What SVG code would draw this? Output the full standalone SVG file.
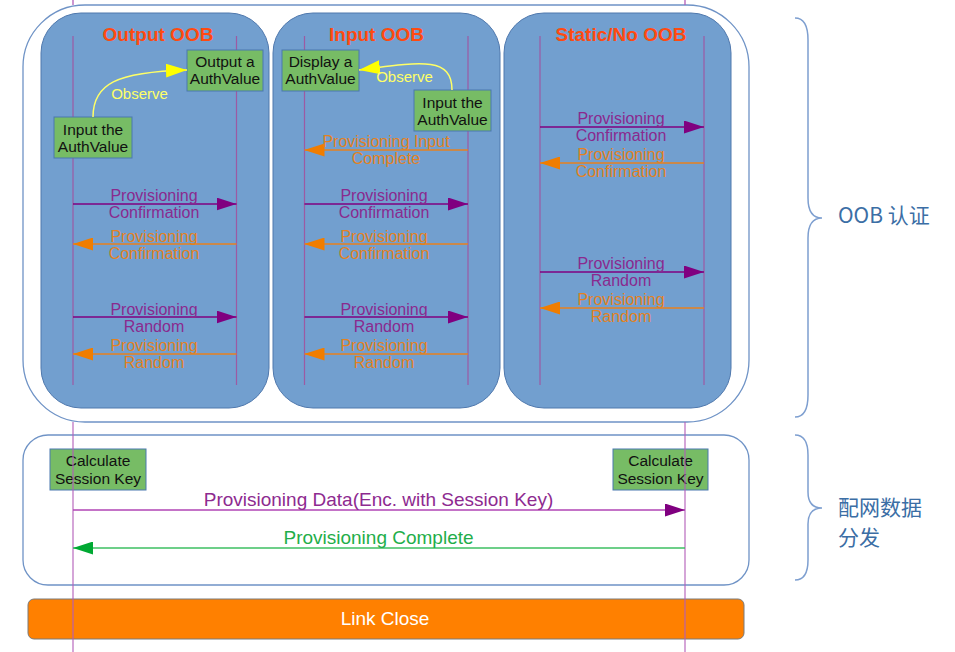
<svg xmlns="http://www.w3.org/2000/svg" width="955" height="652" viewBox="0 0 955 652">
<defs>
<style>
text{font-family:"Liberation Sans",Arial,sans-serif}
.panel{fill:#729fcf;stroke:#4f78ad;stroke-width:1}
.ll{stroke:#9d5aa3;stroke-width:1.2;fill:none}
.main{stroke:#b35db8;stroke-width:1.3;fill:none}
.title{font-size:19px;font-weight:bold;fill:#ff4a10;text-anchor:middle}
.gbox{fill:#77bc65;stroke:#4a78b0;stroke-width:1}
.gt{font-size:15.5px;fill:#111;text-anchor:middle}
.mp{stroke:#800080;stroke-width:1.5;fill:none}
.mo{stroke:#e8801e;stroke-width:1.5;fill:none}
.tp{font-size:16px;fill:#8a2a8e;text-anchor:middle}
.to{font-size:16px;fill:#e3821f;text-anchor:middle}
.yel{stroke:#ffff66;stroke-width:1.5;fill:none}
.ty{font-size:15px;fill:#ffff66;text-anchor:middle}
.grp{fill:none;stroke:#6f93c6;stroke-width:1.3}
.brace{fill:none;stroke:#7e9fd0;stroke-width:1.5}
.cjk{font-family:"Noto Sans CJK SC","Liberation Sans",sans-serif;font-size:21px;fill:#3b6ea5}
</style>
<marker id="ap" markerUnits="userSpaceOnUse" markerWidth="20" markerHeight="13" refX="20" refY="6.5" orient="auto"><path d="M0,0 L20,6.5 L0,13 z" fill="#800080"/></marker>
<marker id="ao" markerUnits="userSpaceOnUse" markerWidth="20" markerHeight="13" refX="20" refY="6.5" orient="auto"><path d="M0,0 L20,6.5 L0,13 z" fill="#f07d00"/></marker>
<marker id="ag" markerUnits="userSpaceOnUse" markerWidth="20" markerHeight="13" refX="20" refY="6.5" orient="auto"><path d="M0,0 L20,6.5 L0,13 z" fill="#00a933"/></marker>
<marker id="ay" markerUnits="userSpaceOnUse" markerWidth="21" markerHeight="14" refX="21" refY="7" orient="auto"><path d="M0,0 L21,7 L0,14 z" fill="#ffff00"/></marker>
</defs>

<g id="oob-group">
<rect class="grp" x="23" y="5" width="726" height="417" rx="62" ry="62" fill="#fff"/>
</g>

<g id="panel-output">
<rect class="panel" x="41" y="13" width="228" height="395" rx="40" ry="40"/>
<text class="title" x="158" y="41">Output OOB</text>
<line class="ll" x1="73" y1="36" x2="73" y2="385"/>
<line class="ll" x1="236.5" y1="36" x2="236.5" y2="385"/>
</g>
<g id="panel-input">
<rect class="panel" x="273" y="13" width="227" height="395" rx="40" ry="40"/>
<text class="title" x="376.5" y="41">Input OOB</text>
<line class="ll" x1="304.5" y1="36" x2="304.5" y2="385"/>
<line class="ll" x1="468" y1="36" x2="468" y2="385"/>
</g>
<g id="panel-static">
<rect class="panel" x="504" y="13" width="227" height="395" rx="40" ry="40"/>
<text class="title" x="621" y="41">Static/No OOB</text>
<line class="ll" x1="540" y1="36" x2="540" y2="385"/>
<line class="ll" x1="704" y1="36" x2="704" y2="385"/>
</g>

<g id="box-output-auth">
<rect class="gbox" x="187" y="50" width="76" height="41"/>
<text class="gt" x="225" y="66.5">Output a</text>
<text class="gt" x="225" y="84">AuthValue</text>
</g>
<g id="box-input-auth-1">
<rect class="gbox" x="54" y="117" width="78" height="41"/>
<text class="gt" x="93" y="134.5">Input the</text>
<text class="gt" x="93" y="152">AuthValue</text>
</g>
<g id="box-display-auth">
<rect class="gbox" x="282" y="50" width="77" height="41"/>
<text class="gt" x="320.5" y="66.5">Display a</text>
<text class="gt" x="320.5" y="84">AuthValue</text>
</g>
<g id="box-input-auth-2">
<rect class="gbox" x="414" y="90" width="77" height="41"/>
<text class="gt" x="452.5" y="107.5">Input the</text>
<text class="gt" x="452.5" y="125">AuthValue</text>
</g>

<g id="oob-group-2">
<rect class="grp" x="23" y="435" width="726" height="150" rx="25" ry="25" fill="none"/>
</g>
<g id="box-calc-left">
<rect class="gbox" x="50" y="449" width="96" height="41"/>
<text class="gt" x="98" y="465.5">Calculate</text>
<text class="gt" x="98" y="483.5">Session Key</text>
</g>
<g id="box-calc-right">
<rect class="gbox" x="613" y="449" width="95" height="41"/>
<text class="gt" x="660.5" y="465.5">Calculate</text>
<text class="gt" x="660.5" y="483.5">Session Key</text>
</g>

<g id="link-close">
<rect x="28" y="599" width="716" height="40" rx="6" ry="6" fill="#ff8000" stroke="#7a7a7a" stroke-width="1"/>
<text x="385" y="625" font-size="19" fill="#fff" text-anchor="middle">Link Close</text>
</g>

<g id="connectors">
<line class="main" x1="73" y1="0" x2="73" y2="5"/>
<line class="main" x1="685" y1="0" x2="685" y2="5"/>
<line class="main" x1="73" y1="422" x2="73" y2="652" stroke-opacity="0.85"/>
<line class="main" x1="685" y1="422" x2="685" y2="652" stroke-opacity="0.85"/>

<path class="yel" d="M93,117 C93,84 116,72 187,70" marker-end="url(#ay)"/>
<text class="ty" x="139.5" y="99">Observe</text>
<path class="yel" d="M452,90 C452,56 420,62 359,70" marker-end="url(#ay)"/>
<text class="ty" x="404.5" y="82">Observe</text>

<line class="mo" x1="468" y1="150" x2="304.5" y2="150" marker-end="url(#ao)"/>
<text class="to" x="386" y="146.5">Provisioning Input</text>
<text class="to" x="386" y="164">Complete</text>

<line class="mp" x1="73" y1="204" x2="236.5" y2="204" marker-end="url(#ap)"/>
<text class="tp" x="154" y="201">Provisioning</text>
<text class="tp" x="154" y="218">Confirmation</text>
<line class="mo" x1="236.5" y1="244" x2="73" y2="244" marker-end="url(#ao)"/>
<text class="to" x="154" y="241.5">Provisioning</text>
<text class="to" x="154" y="258.5">Confirmation</text>
<line class="mp" x1="73" y1="317" x2="236.5" y2="317" marker-end="url(#ap)"/>
<text class="tp" x="154" y="314.5">Provisioning</text>
<text class="tp" x="154" y="331.5">Random</text>
<line class="mo" x1="236.5" y1="354" x2="73" y2="354" marker-end="url(#ao)"/>
<text class="to" x="154" y="350.5">Provisioning</text>
<text class="to" x="154" y="367.5">Random</text>

<line class="mp" x1="304.5" y1="204" x2="468" y2="204" marker-end="url(#ap)"/>
<text class="tp" x="384" y="201">Provisioning</text>
<text class="tp" x="384" y="218">Confirmation</text>
<line class="mo" x1="468" y1="244" x2="304.5" y2="244" marker-end="url(#ao)"/>
<text class="to" x="384" y="241.5">Provisioning</text>
<text class="to" x="384" y="258.5">Confirmation</text>
<line class="mp" x1="304.5" y1="317" x2="468" y2="317" marker-end="url(#ap)"/>
<text class="tp" x="384" y="314.5">Provisioning</text>
<text class="tp" x="384" y="331.5">Random</text>
<line class="mo" x1="468" y1="354" x2="304.5" y2="354" marker-end="url(#ao)"/>
<text class="to" x="384" y="350.5">Provisioning</text>
<text class="to" x="384" y="367.5">Random</text>

<line class="mp" x1="540" y1="127" x2="704" y2="127" marker-end="url(#ap)"/>
<text class="tp" x="621" y="124">Provisioning</text>
<text class="tp" x="621" y="141">Confirmation</text>
<line class="mo" x1="704" y1="163" x2="540" y2="163" marker-end="url(#ao)"/>
<text class="to" x="621" y="160">Provisioning</text>
<text class="to" x="621" y="177">Confirmation</text>
<line class="mp" x1="540" y1="272" x2="704" y2="272" marker-end="url(#ap)"/>
<text class="tp" x="621" y="269">Provisioning</text>
<text class="tp" x="621" y="286">Random</text>
<line class="mo" x1="704" y1="308" x2="540" y2="308" marker-end="url(#ao)"/>
<text class="to" x="621" y="304.5">Provisioning</text>
<text class="to" x="621" y="322">Random</text>

<line x1="73" y1="510" x2="685" y2="510" stroke="#b044b4" stroke-width="1.3" marker-end="url(#ap)"/>
<text x="378.5" y="506" font-size="19" fill="#8e2a90" text-anchor="middle">Provisioning Data(Enc. with Session Key)</text>
<line x1="685" y1="548" x2="73" y2="548" stroke="#3cbf62" stroke-width="1.3" marker-end="url(#ag)"/>
<text x="378.5" y="543.5" font-size="19" fill="#1fae4a" text-anchor="middle">Provisioning Complete</text>
</g>

<g id="brace-oob">
<path class="brace" d="M795,18 Q808,18 808,40 L808,198 Q808,218 822,218 Q808,218 808,238 L808,395 Q808,417 795,417"/>
<text class="cjk" x="838" y="223">OOB 认证</text>
</g>
<g id="brace-data">
<path class="brace" d="M795,435 Q808,435 808,455 L808,492 Q808,508 822,508 Q808,508 808,524 L808,560 Q808,580 795,580"/>
<text class="cjk" x="838" y="515">配网数据</text>
<text class="cjk" x="838" y="545">分发</text>
</g>
</svg>
